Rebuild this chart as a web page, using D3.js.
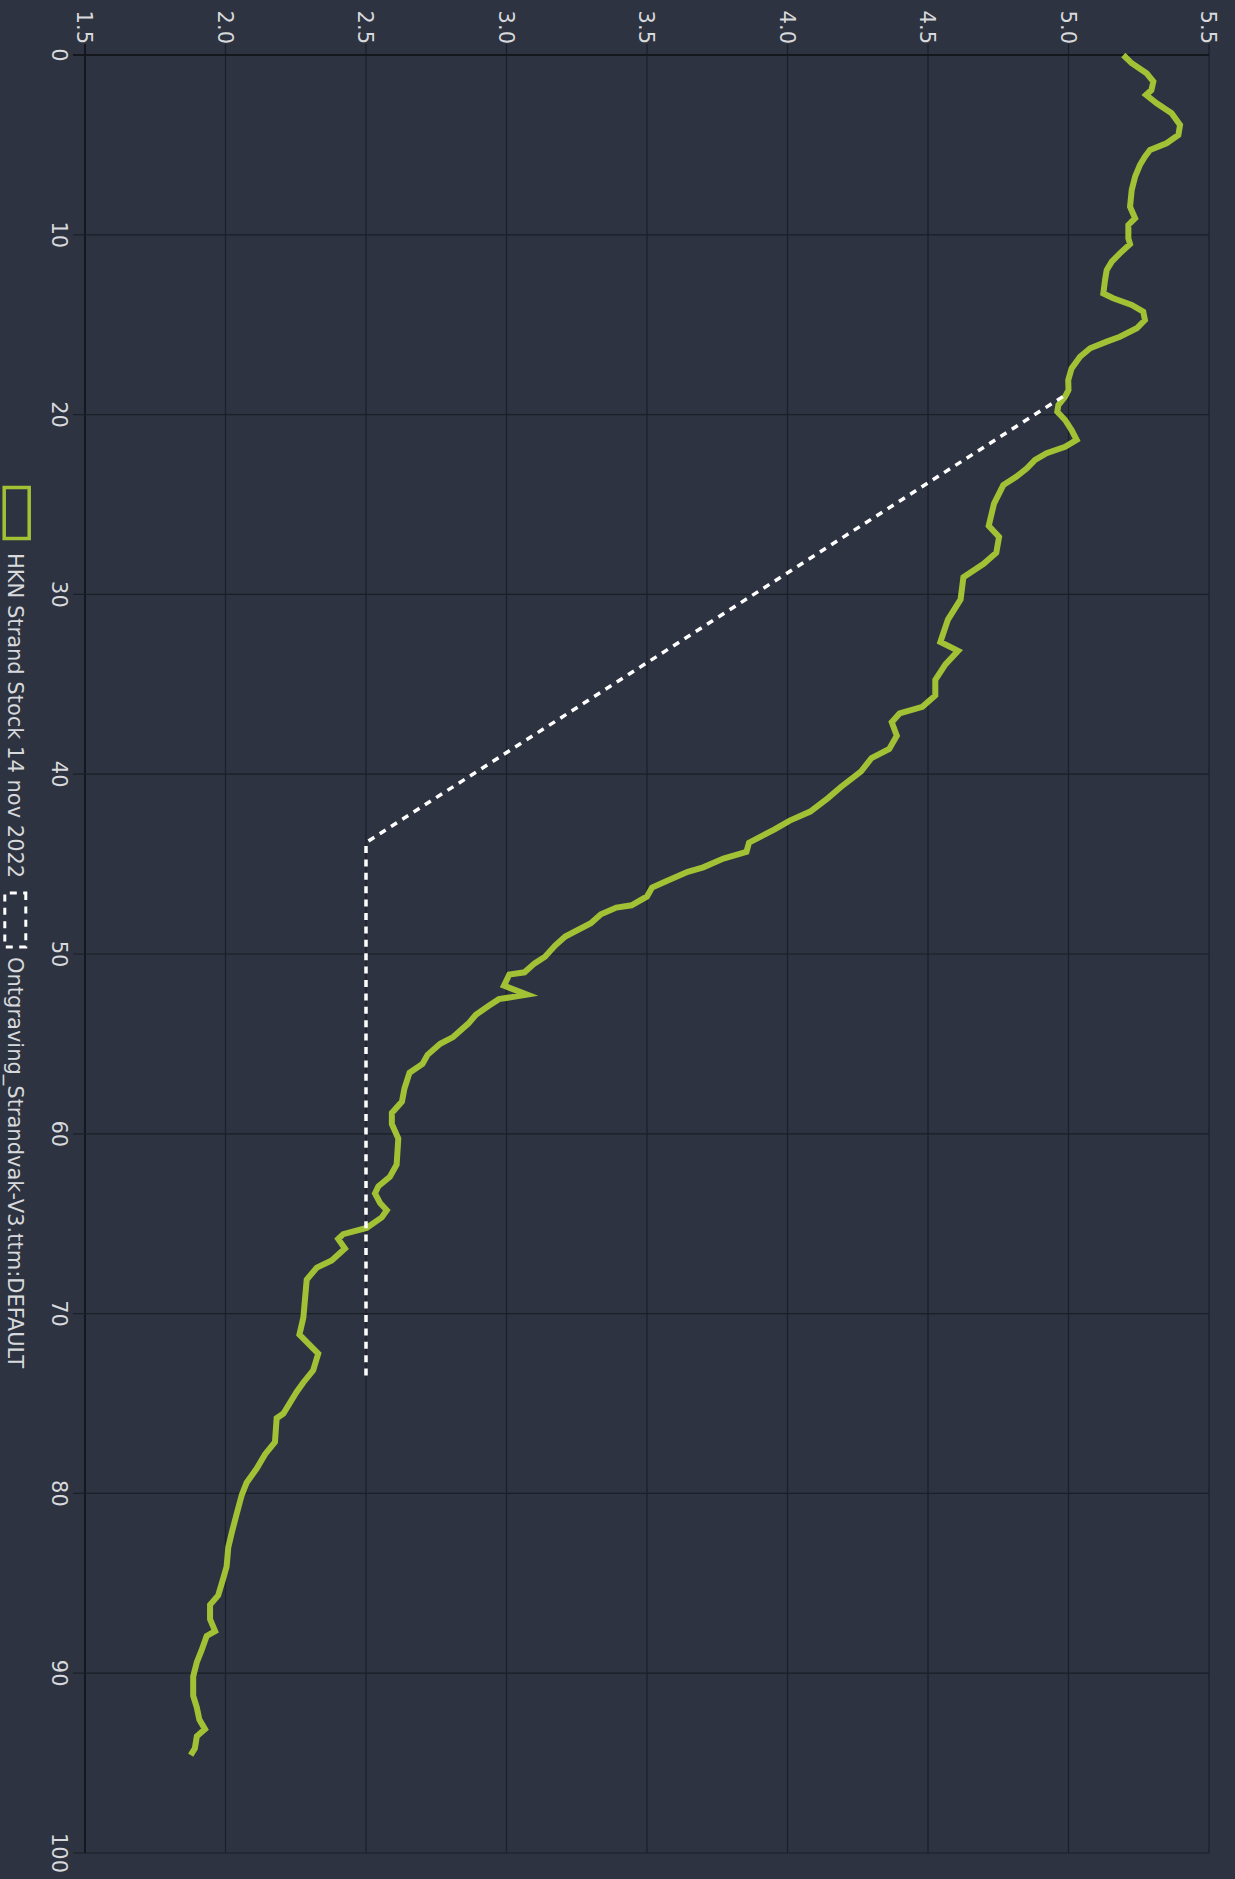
<!DOCTYPE html>
<html>
<head>
<meta charset="utf-8">
<script src="https://cdn.jsdelivr.net/npm/d3@7"></script>
<style>
  html, body { margin: 0; padding: 0; background: #2d3340; }
  svg { display: block; }
</style>
</head>
<body>
<script>
// ---------- DATA ----------
const depthTicks = [0, 10, 20, 30, 40, 50, 60, 70, 80, 90, 100];
const valueTicks = [1.5, 2.0, 2.5, 3.0, 3.5, 4.0, 4.5, 5.0, 5.5];
const valueTickLabels = ["1.5", "2.0", "2.5", "3.0", "3.5", "4.0", "4.5", "5.0", "5.5"];
const seriesNames = ["HKN Strand Stock 14 nov 2022", "Ontgraving_Strandvak-V3.ttm:DEFAULT"];

const hknDepth = [0, 0.46, 1.02, 1.48, 1.95, 2.22, 2.69, 3.24, 3.89, 4.45, 4.91, 5.28, 5.65, 6.12, 6.77, 7.51, 8.44, 9.08, 9.45, 10.2, 10.51, 11.03, 11.49, 11.96, 12.51, 13.26, 13.53, 13.9, 14.28, 14.74, 15.2, 15.67, 15.94, 16.31, 16.78, 17.43, 18.08, 18.63, 19.0, 19.47, 19.84, 20.3, 20.86, 21.41, 21.79, 22.15, 22.52, 22.99, 23.45, 23.92,
  24.95, 26.19, 26.81, 27.68, 28.3, 29.04, 30.28, 31.4, 32.65, 33.14, 33.89, 34.76, 35.62, 36.25, 36.62, 37.11, 37.86, 38.6, 39.1, 39.84, 40.71, 41.33, 42.08, 42.58, 43.07, 43.81, 44.32, 44.69, 45.18, 45.43, 45.93, 46.3, 46.8, 47.29, 47.42, 47.79, 48.29, 49.03, 49.53, 50.15, 50.52, 51.02, 51.14, 51.76, 52.26, 52.51, 52.88, 53.38, 53.87, 54.62, 54.99, 55.61, 56.11, 56.6, 57.47, 58.21, 58.84, 59.46,
  60.26, 61.72, 62.39, 62.92, 63.32, 63.85, 64.25, 64.65, 65.24, 65.58, 65.85, 66.38, 67.04, 67.44, 68.11, 69.17, 70.23, 71.17, 72.23, 73.16, 73.83, 74.36, 75.56, 75.82, 77.15, 77.82, 78.62, 79.41, 80.08, 81.01, 82.2, 83.0, 84.07, 84.73, 85.67, 86.2, 87.0, 87.66, 87.93, 88.72, 89.39, 90.18, 91.25, 91.91, 92.58, 93.11, 93.51, 94.18, 94.56];
const hknValue = [5.195, 5.225, 5.278, 5.302, 5.295, 5.276, 5.314, 5.367, 5.397, 5.391, 5.349, 5.29, 5.272, 5.254, 5.237, 5.225, 5.219, 5.237, 5.213, 5.213, 5.219, 5.183, 5.154, 5.136, 5.13, 5.124, 5.159, 5.225, 5.266, 5.272, 5.243, 5.183, 5.136, 5.077, 5.041, 5.011, 4.999, 5.0, 4.988, 4.964, 4.96, 4.988, 5.011, 5.029, 4.988, 4.922, 4.881, 4.852, 4.815, 4.768,
  4.735, 4.716, 4.753, 4.743, 4.698, 4.626, 4.616, 4.571, 4.544, 4.607, 4.562, 4.526, 4.526, 4.48, 4.399, 4.371, 4.389, 4.362, 4.299, 4.262, 4.19, 4.144, 4.081, 4.008, 3.954, 3.863, 3.854, 3.772, 3.7, 3.645, 3.572, 3.518, 3.5, 3.445, 3.391, 3.336, 3.3, 3.209, 3.173, 3.137, 3.1, 3.064, 3.01, 2.991, 3.073, 2.973, 2.937, 2.891, 2.864, 2.81, 2.764, 2.719, 2.701, 2.655, 2.637, 2.628, 2.592, 2.592,
  2.615, 2.609, 2.585, 2.544, 2.532, 2.55, 2.574, 2.556, 2.502, 2.419, 2.401, 2.425, 2.378, 2.325, 2.289, 2.283, 2.277, 2.263, 2.33, 2.312, 2.277, 2.253, 2.206, 2.182, 2.176, 2.141, 2.111, 2.075, 2.058, 2.042, 2.022, 2.01, 2.004, 1.992, 1.974, 1.945, 1.945, 1.963, 1.933, 1.915, 1.898, 1.885, 1.885, 1.898, 1.907, 1.927, 1.898, 1.891, 1.876];

const ontgDepth = [19.0, 43.8, 73.5];
const ontgValue = [4.98, 2.5, 2.5];

// ---------- LAYOUT (chart drawn in landscape, then rotated 90° clockwise) ----------
const W = 1235, H = 1879;
const plot = { left: 55, right: 1853, top: 26, bottom: 1150 };

const svg = d3.select("body").append("svg")
  .attr("width", W).attr("height", H)
  .style("background", "#2d3340");

svg.append("rect").attr("width", W).attr("height", H).attr("fill", "#2d3340");

const g = svg.append("g").attr("transform", `translate(${W},0) rotate(90)`);

const x = d3.scaleLinear().domain([0, 100]).range([plot.left, plot.right]);
const y = d3.scaleLinear().domain([1.5, 5.5]).range([plot.bottom, plot.top]);

const FONT = "'DejaVu Sans', Verdana, sans-serif";
const TXT = "#d7d9dc";
const GRID = "#1b1f27";

// grid: value lines (horizontal in local)
g.append("g").selectAll("line").data(valueTicks).join("line")
  .attr("x1", plot.left - 11).attr("x2", plot.right)
  .attr("y1", d => y(d)).attr("y2", d => y(d))
  .attr("stroke", (d, i) => i === 0 ? "#14171d" : GRID)
  .attr("stroke-width", (d, i) => i === 0 ? 2 : 1.2);

// grid: depth lines (vertical in local)
g.append("g").selectAll("line").data(depthTicks).join("line")
  .attr("x1", d => x(d)).attr("x2", d => x(d))
  .attr("y1", plot.top).attr("y2", plot.bottom + 12)
  .attr("stroke", (d, i) => i === 0 ? "#14171d" : GRID)
  .attr("stroke-width", (d, i) => i === 0 ? 2 : 1.2);

// value tick labels
g.append("g").selectAll("text").data(valueTicks).join("text")
  .attr("x", plot.left - 11)
  .attr("y", d => y(d) + 7.6)
  .attr("text-anchor", "end")
  .attr("font-family", FONT).attr("font-size", 21)
  .attr("fill", TXT)
  .text((d, i) => valueTickLabels[i]);

// depth tick labels
g.append("g").selectAll("text").data(depthTicks).join("text")
  .attr("x", d => x(d))
  .attr("y", plot.bottom + 33)
  .attr("text-anchor", "middle")
  .attr("font-family", FONT).attr("font-size", 21)
  .attr("fill", TXT)
  .text(d => d);

// series
const line = d3.line().x(d => x(d[0])).y(d => y(d[1]));
const hkn = hknDepth.map((d, i) => [d, hknValue[i]]);
const ontg = ontgDepth.map((d, i) => [d, ontgValue[i]]);

g.append("path").datum(hkn)
  .attr("d", line)
  .attr("fill", "none")
  .attr("stroke", "#a3c135")
  .attr("stroke-width", 6)
  .attr("stroke-linejoin", "miter")
  .attr("stroke-miterlimit", 4);

g.append("path").datum(ontg)
  .attr("d", line)
  .attr("fill", "none")
  .attr("stroke", "#ffffff")
  .attr("stroke-width", 3.5)
  .attr("stroke-dasharray", "7,6.4");

// legend
const leg = g.append("g");
leg.append("rect")
  .attr("x", 487.5).attr("y", 1205.8).attr("width", 51).attr("height", 25)
  .attr("fill", "none").attr("stroke", "#a3c135").attr("stroke-width", 3.5);
leg.append("text")
  .attr("x", 553).attr("y", 1227)
  .attr("font-family", FONT).attr("font-size", 21).attr("fill", TXT)
  .text(seriesNames[0]);
leg.append("rect")
  .attr("x", 893).attr("y", 1209.2).attr("width", 54).attr("height", 21)
  .attr("fill", "none").attr("stroke", "#ffffff").attr("stroke-width", 3)
  .attr("stroke-dasharray", "7,6.4");
leg.append("text")
  .attr("x", 957).attr("y", 1227)
  .attr("font-family", FONT).attr("font-size", 21).attr("fill", TXT)
  .text(seriesNames[1]);
</script>
</body>
</html>
